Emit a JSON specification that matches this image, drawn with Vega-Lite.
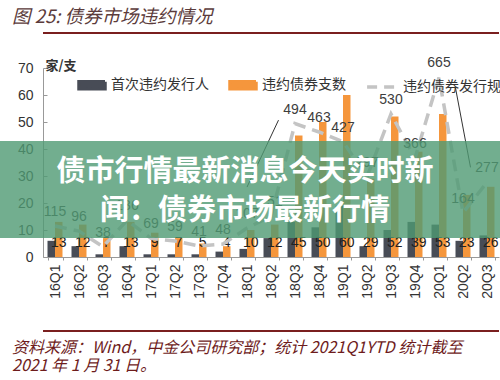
{
  "$schema": "https://vega.github.io/schema/vega-lite/v6.json",
  "width": 456,
  "height": 189,
  "autosize": {"type": "none"},
  "padding": {"left": 43, "top": 68, "right": 1, "bottom": 123},
  "background": "white",
  "config": {"view": {"stroke": null}, "font": "Liberation Sans"},
  "datasets": {
    "bars": [
      {"quarter": "16Q1", "series": "首次违约发行人", "value": 6}, {"quarter": "16Q1", "series": "违约债券支数", "value": 13},
      {"quarter": "16Q2", "series": "首次违约发行人", "value": 4}, {"quarter": "16Q2", "series": "违约债券支数", "value": 12},
      {"quarter": "16Q3", "series": "首次违约发行人", "value": 1}, {"quarter": "16Q3", "series": "违约债券支数", "value": 7},
      {"quarter": "16Q4", "series": "首次违约发行人", "value": 4}, {"quarter": "16Q4", "series": "违约债券支数", "value": 13},
      {"quarter": "17Q1", "series": "首次违约发行人", "value": 1}, {"quarter": "17Q1", "series": "违约债券支数", "value": 9},
      {"quarter": "17Q2", "series": "首次违约发行人", "value": 1}, {"quarter": "17Q2", "series": "违约债券支数", "value": 7},
      {"quarter": "17Q3", "series": "首次违约发行人", "value": 1}, {"quarter": "17Q3", "series": "违约债券支数", "value": 5},
      {"quarter": "17Q4", "series": "首次违约发行人", "value": 2}, {"quarter": "17Q4", "series": "违约债券支数", "value": 4},
      {"quarter": "18Q1", "series": "首次违约发行人", "value": 3}, {"quarter": "18Q1", "series": "违约债券支数", "value": 10},
      {"quarter": "18Q2", "series": "首次违约发行人", "value": 7}, {"quarter": "18Q2", "series": "违约债券支数", "value": 12},
      {"quarter": "18Q3", "series": "首次违约发行人", "value": 13}, {"quarter": "18Q3", "series": "违约债券支数", "value": 45},
      {"quarter": "18Q4", "series": "首次违约发行人", "value": 11}, {"quarter": "18Q4", "series": "违约债券支数", "value": 50},
      {"quarter": "19Q1", "series": "首次违约发行人", "value": 19}, {"quarter": "19Q1", "series": "违约债券支数", "value": 60},
      {"quarter": "19Q2", "series": "首次违约发行人", "value": 4}, {"quarter": "19Q2", "series": "违约债券支数", "value": 29},
      {"quarter": "19Q3", "series": "首次违约发行人", "value": 10}, {"quarter": "19Q3", "series": "违约债券支数", "value": 52},
      {"quarter": "19Q4", "series": "首次违约发行人", "value": 13}, {"quarter": "19Q4", "series": "违约债券支数", "value": 39},
      {"quarter": "20Q1", "series": "首次违约发行人", "value": 12}, {"quarter": "20Q1", "series": "违约债券支数", "value": 53},
      {"quarter": "20Q2", "series": "首次违约发行人", "value": 6}, {"quarter": "20Q2", "series": "违约债券支数", "value": 23},
      {"quarter": "20Q3", "series": "首次违约发行人", "value": 8}, {"quarter": "20Q3", "series": "违约债券支数", "value": 26}
    ],
    "amount": [
      {"quarter": "16Q1", "amount": 115}, {"quarter": "16Q2", "amount": 96}, {"quarter": "16Q3", "amount": 38},
      {"quarter": "16Q4", "amount": 136}, {"quarter": "17Q1", "amount": 69}, {"quarter": "17Q2", "amount": 59},
      {"quarter": "17Q3", "amount": 41}, {"quarter": "17Q4", "amount": 48}, {"quarter": "18Q1", "amount": 107},
      {"quarter": "18Q2", "amount": 151}, {"quarter": "18Q3", "amount": 494}, {"quarter": "18Q4", "amount": 463},
      {"quarter": "19Q1", "amount": 427}, {"quarter": "19Q2", "amount": 297}, {"quarter": "19Q3", "amount": 530},
      {"quarter": "19Q4", "amount": 366}, {"quarter": "20Q1", "amount": 665}, {"quarter": "20Q2", "amount": 164},
      {"quarter": "20Q3", "amount": 277}
    ],
    "texts": [
      {"title": "图 25: 债券市场违约情况"}
    ]
  },
  "layer": [
    {
      "data": {"name": "bars"},
      "layer": [
        {
          "mark": {"type": "bar"},
          "encoding": {
            "x": {
              "field": "quarter", "type": "nominal",
              "scale": {"domain": ["16Q1","16Q2","16Q3","16Q4","17Q1","17Q2","17Q3","17Q4","18Q1","18Q2","18Q3","18Q4","19Q1","19Q2","19Q3","19Q4","20Q1","20Q2","20Q3"], "paddingInner": 0.375, "paddingOuter": 0.1875},
              "axis": {"title": null, "labelAngle": -90, "labelFontSize": 14, "labelColor": "#333", "labelPadding": 4, "ticks": true, "tickBand": "extent", "tickSize": 3, "tickColor": "#999", "domainColor": "#999"}
            },
            "xOffset": {"field": "series", "type": "nominal", "sort": ["首次违约发行人", "违约债券支数"], "scale": {"domain": ["首次违约发行人", "违约债券支数"], "paddingInner": 0, "paddingOuter": 0}},
            "y": {
              "field": "value", "type": "quantitative",
              "scale": {"domain": [0, 70], "nice": false},
              "axis": {"orient": "left", "title": "家/支", "titleAngle": 0, "titleAlign": "left", "titleBaseline": "middle", "titleX": 2, "titleY": -3, "titleFont": "Noto Sans CJK SC", "titleFontSize": 13, "titleFontWeight": "bold", "titleColor": "#333", "values": [0,10,20,30,40,50,60,70], "labelOverlap": false, "labelFontSize": 14, "labelColor": "#333", "labelPadding": 14, "tickSize": -4, "tickColor": "#999", "domainColor": "#999", "grid": false}
            },
            "color": {
              "field": "series", "type": "nominal",
              "scale": {"domain": ["首次违约发行人", "违约债券支数", "违约债券发行规模（亿元，右轴）"], "range": ["#484c56", "#f5963c", "#c4c4c4"]},
              "legend": {
                "orient": "none", "legendX": 34, "legendY": 2, "direction": "horizontal", "columns": 3, "title": null,
                "labelFont": "Noto Sans CJK SC", "labelFontSize": 14, "labelColor": "#333", "labelLimit": 0, "columnPadding": 14, "labelOffset": 4, "symbolSize": 676,
                "encode": {"symbols": {"update": {
                  "shape": {"signal": "datum.value === '违约债券发行规模（亿元，右轴）' ? 'M-1.3,0H1.3' : 'M-1,-0.27H1V0.27H-1Z'"},
                  "size": {"value": 676},
                  "fill": {"signal": "datum.value === '违约债券发行规模（亿元，右轴）' ? 'transparent' : (datum.value === '首次违约发行人' ? '#484c56' : '#f5963c')"},
                  "stroke": {"signal": "datum.value === '违约债券发行规模（亿元，右轴）' ? '#c4c4c4' : 'transparent'"},
                  "strokeWidth": {"value": 3.5},
                  "strokeDash": {"signal": "datum.value === '违约债券发行规模（亿元，右轴）' ? [10,7] : [1,0]"},
                  "opacity": {"value": 1}
                }}}
              }
            }
          }
        },
        {
          "transform": [{"filter": "datum.series === '违约债券支数'"}],
          "mark": {"type": "text", "fontSize": 14, "color": "#222", "baseline": "middle"},
          "encoding": {
            "x": {"field": "quarter", "type": "nominal"},
            "xOffset": {"field": "series", "type": "nominal", "sort": ["首次违约发行人", "违约债券支数"]},
            "y": {
              "datum": 5.2, "type": "quantitative",
              "axis": {"orient": "left", "title": "家/支", "titleAngle": 0, "titleAlign": "left", "titleBaseline": "middle", "titleX": 2, "titleY": -3, "titleFont": "Noto Sans CJK SC", "titleFontSize": 13, "titleFontWeight": "bold", "titleColor": "#333", "values": [0,10,20,30,40,50,60,70], "labelOverlap": false, "labelFontSize": 14, "labelColor": "#333", "labelPadding": 14, "tickSize": -4, "tickColor": "#999", "domainColor": "#999", "grid": false}
            },
            "text": {"field": "value", "type": "quantitative"}
          }
        }
      ]
    },
    {
      "data": {"name": "amount"},
      "layer": [
        {
          "mark": {"type": "line", "strokeDash": [12, 7], "strokeWidth": 3.5},
          "encoding": {
            "x": {"field": "quarter", "type": "nominal"},
            "y": {"field": "amount", "type": "quantitative", "scale": {"domain": [0, 700], "nice": false}, "axis": null},
            "color": {"datum": "违约债券发行规模（亿元，右轴）"}
          }
        },
        {
          "mark": {"type": "text", "fontSize": 14, "color": "#3d3d3d", "dy": -14, "baseline": "middle"},
          "encoding": {
            "x": {"field": "quarter", "type": "nominal"},
            "y": {"field": "amount", "type": "quantitative", "axis": null},
            "text": {"field": "amount", "type": "quantitative"}
          }
        }
      ]
    },
    {
      "data": {"name": "texts"},
      "layer": [
        {
          "mark": {"type": "rule", "strokeWidth": 1, "color": "#333"},
          "encoding": {
            "x": {"datum": "18Q1"},
            "x2": {"datum": "18Q2", "bandPosition": 1},
            "y": {"datum": 25.9, "type": "quantitative", "scale": {"domain": [0, 70], "nice": false}, "axis": null},
            "y2": {"datum": 50.7}
          }
        },
        {
          "mark": {"type": "rule", "strokeWidth": 1, "color": "#333"},
          "encoding": {
            "x": {"datum": "20Q2", "bandPosition": 0},
            "x2": {"datum": "20Q2", "bandPosition": 1},
            "y": {"datum": 62.6, "type": "quantitative", "axis": null},
            "y2": {"datum": 33.2}
          }
        },
        {
          "mark": {"type": "rule", "strokeWidth": 97, "strokeCap": "square", "color": "#4f9a73", "opacity": 0.8},
          "encoding": {"y": {"datum": 25, "type": "quantitative", "axis": null}}
        },
        {
          "mark": {"type": "text", "align": "center", "baseline": "top", "dx": -26, "font": "Noto Sans CJK SC", "fontSize": 29, "fontWeight": "bold", "color": "white", "lineHeight": 39},
          "encoding": {
            "y": {"datum": 36.7, "type": "quantitative", "axis": null},
            "text": {"value": ["债市行情最新消息今天实时新", "闻：债券市场最新行情"]}
          }
        },
        {
          "mark": {"type": "text", "align": "left", "baseline": "middle", "dx": -259, "font": "Noto Sans CJK SC", "fontSize": 18.5, "fontStyle": "italic", "color": "#5b3b3b"},
          "encoding": {
            "y": {"datum": 88.9, "type": "quantitative", "axis": null},
            "text": {"field": "title"}
          }
        },
        {
          "mark": {"type": "rule", "strokeWidth": 2, "color": "#7a1f1f"},
          "encoding": {"y": {"datum": 83, "type": "quantitative", "axis": null}}
        },
        {
          "mark": {"type": "rule", "strokeWidth": 2, "color": "#7a1f1f"},
          "encoding": {"y": {"datum": -27.4, "type": "quantitative", "axis": null}}
        },
        {
          "mark": {"type": "text", "align": "left", "baseline": "top", "dx": -259, "font": "Noto Sans CJK SC", "fontSize": 16, "fontStyle": "italic", "color": "#6e1c1c", "lineHeight": 18},
          "encoding": {
            "y": {"datum": -30.7, "type": "quantitative", "axis": null},
            "text": {"value": ["资料来源：Wind，中金公司研究部；统计 2021Q1YTD 统计截至", "2021 年 1 月 31 日。"]}
          }
        }
      ]
    }
  ],
  "resolve": {"scale": {"y": "independent"}}
}
